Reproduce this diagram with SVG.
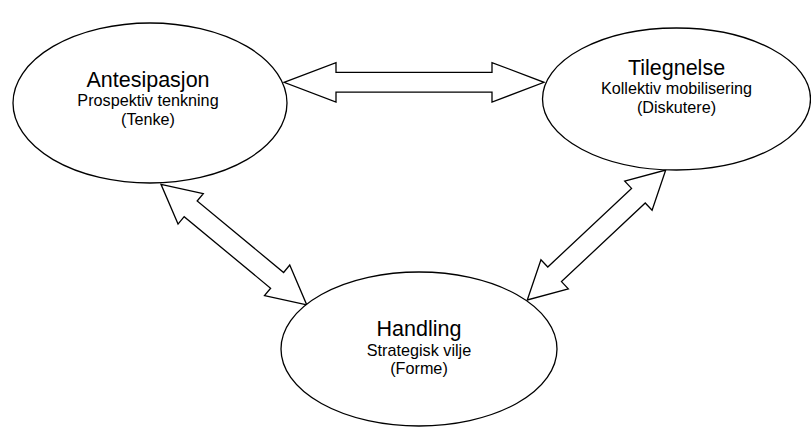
<svg xmlns="http://www.w3.org/2000/svg" width="811" height="427" viewBox="0 0 811 427">
  <style>
    .node { fill: #ffffff; stroke: #000000; stroke-width: 1.3; }
    .arrow { fill: #ffffff; stroke: #000000; stroke-width: 1.3; stroke-linejoin: miter; }
    text { font-family: "Liberation Sans", Arial, sans-serif; fill: #000000; text-anchor: middle; }
    .title { font-size: 21.5px; }
    .sub { font-size: 16.2px; }
  </style>
  <rect x="0" y="0" width="811" height="427" fill="#ffffff"/>

  <!-- Double-headed block arrows between the three phases -->
  <g id="connectors">
    <!-- Antesipasjon <-> Tilegnelse -->
    <path class="arrow" d="M0,0 L52,-19.7 L52,-9.9 L208,-9.9 L208,-19.7 L260,0 L208,19.7 L208,9.9 L52,9.9 L52,19.7 Z" transform="translate(284,82.3)"/>
    <!-- Antesipasjon <-> Handling -->
    <path class="arrow" d="M0,0 L38.5,-19.8 L38.5,-10.2 L150.7,-10.2 L150.7,-19.8 L189.2,0 L150.7,19.8 L150.7,10.2 L38.5,10.2 L38.5,19.8 Z" transform="translate(161,184.3) rotate(39.6)"/>
    <!-- Handling <-> Tilegnelse -->
    <path class="arrow" d="M0,0 L37.5,-20 L37.5,-10 L152.4,-10 L152.4,-20 L189.9,0 L152.4,20 L152.4,10 L37.5,10 L37.5,20 Z" transform="translate(527.3,300) rotate(-43.2)"/>
  </g>

  <g id="antesipasjon">
    <ellipse class="node" cx="150" cy="103" rx="137" ry="80"/>
    <text class="title" x="148" y="86.5">Antesipasjon</text>
    <text class="sub" x="148" y="106.3">Prospektiv tenkning</text>
    <text class="sub" x="148" y="124.6">(Tenke)</text>
  </g>

  <g id="tilegnelse">
    <ellipse class="node" cx="676.5" cy="99" rx="134" ry="71"/>
    <text class="title" x="676.5" y="74.5">Tilegnelse</text>
    <text class="sub" x="676.5" y="94.3">Kollektiv mobilisering</text>
    <text class="sub" x="676.5" y="112.6">(Diskutere)</text>
  </g>

  <g id="handling">
    <ellipse class="node" cx="419" cy="349" rx="138" ry="77"/>
    <text class="title" x="419" y="336">Handling</text>
    <text class="sub" x="419" y="355.8">Strategisk vilje</text>
    <text class="sub" x="419" y="374.1">(Forme)</text>
  </g>
</svg>
